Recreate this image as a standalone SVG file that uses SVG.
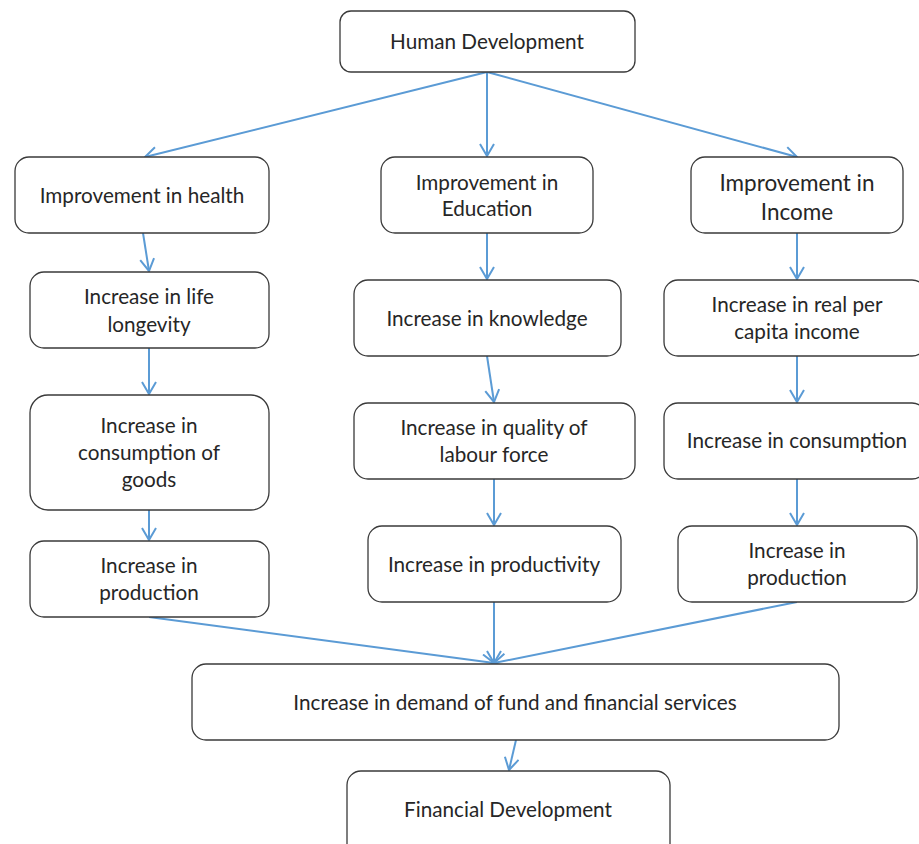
<svg xmlns="http://www.w3.org/2000/svg" width="919" height="844" viewBox="0 0 919 844">
  <style>
    .box { fill: #ffffff; stroke: #3a3a3a; stroke-width: 1.3; }
    .lbl { font-family: Lato, "Open Sans", "Liberation Sans", sans-serif; font-size: 20.7px; fill: #262626; text-anchor: middle; }
    .big { font-size: 22.5px; }
    .conn line { stroke: #5b9bd5; stroke-width: 2; marker-end: url(#arrow); }
  </style>
  <defs>
    <marker id="arrow" viewBox="0 0 14 16" refX="13" refY="8" markerWidth="14" markerHeight="16" markerUnits="userSpaceOnUse" orient="auto">
      <path d="M1,1 L13,8 L1,15" fill="none" stroke="#5b9bd5" stroke-width="2"/>
    </marker>
  </defs>
  <rect width="919" height="844" fill="#ffffff"/>

  <g class="conn">
    <line x1="487" y1="72" x2="145" y2="157"/>
    <line x1="487" y1="72" x2="487" y2="156"/>
    <line x1="487" y1="72" x2="797" y2="157"/>
    <line x1="143" y1="233" x2="149" y2="271"/>
    <line x1="149" y1="348" x2="149" y2="394"/>
    <line x1="149" y1="510" x2="149" y2="540"/>
    <line x1="487" y1="233" x2="487" y2="279"/>
    <line x1="487" y1="356" x2="494" y2="402"/>
    <line x1="494" y1="479" x2="494" y2="525"/>
    <line x1="797" y1="233" x2="797" y2="279"/>
    <line x1="797" y1="356" x2="797" y2="402"/>
    <line x1="797" y1="479" x2="797" y2="525"/>
    <line x1="149" y1="617" x2="494" y2="663"/>
    <line x1="494" y1="602" x2="494" y2="663"/>
    <line x1="797" y1="602" x2="494" y2="663"/>
    <line x1="516" y1="740" x2="509" y2="770"/>
  </g>

  <g id="human-development">
    <rect class="box" x="340" y="11" width="295" height="61" rx="11"/>
    <text class="lbl" x="487" y="49">Human Development</text>
  </g>
  <g id="improve-health">
    <rect class="box" x="15" y="157" width="254" height="76" rx="14"/>
    <text class="lbl" x="142" y="203">Improvement in health</text>
  </g>
  <g id="improve-education">
    <rect class="box" x="381" y="157" width="212" height="76" rx="14"/>
    <text class="lbl" x="487" y="190">Improvement in</text>
    <text class="lbl" x="487" y="216">Education</text>
  </g>
  <g id="improve-income">
    <rect class="box" x="691" y="157" width="212" height="76" rx="14"/>
    <text class="lbl big" x="797" y="191">Improvement in</text>
    <text class="lbl big" x="797" y="220">Income</text>
  </g>
  <g id="life-longevity">
    <rect class="box" x="30" y="272" width="239" height="76" rx="14"/>
    <text class="lbl" x="149" y="304">Increase in life</text>
    <text class="lbl" x="149" y="332">longevity</text>
  </g>
  <g id="knowledge">
    <rect class="box" x="354" y="280" width="267" height="76" rx="14"/>
    <text class="lbl" x="487" y="326">Increase in knowledge</text>
  </g>
  <g id="real-income">
    <rect class="box" x="664" y="280" width="262" height="76" rx="14"/>
    <text class="lbl" x="797" y="312">Increase in real per</text>
    <text class="lbl" x="797" y="339">capita income</text>
  </g>
  <g id="consumption-goods">
    <rect class="box" x="30" y="395" width="239" height="115" rx="18"/>
    <text class="lbl" x="149" y="433">Increase in</text>
    <text class="lbl" x="149" y="460">consumption of</text>
    <text class="lbl" x="149" y="487">goods</text>
  </g>
  <g id="labour-quality">
    <rect class="box" x="354" y="403" width="281" height="76" rx="14"/>
    <text class="lbl" x="494" y="435">Increase in quality of</text>
    <text class="lbl" x="494" y="462">labour force</text>
  </g>
  <g id="consumption">
    <rect class="box" x="664" y="403" width="262" height="76" rx="14"/>
    <text class="lbl" x="797" y="448">Increase in consumption</text>
  </g>
  <g id="production-left">
    <rect class="box" x="30" y="541" width="239" height="76" rx="14"/>
    <text class="lbl" x="149" y="573">Increase in</text>
    <text class="lbl" x="149" y="600">production</text>
  </g>
  <g id="productivity">
    <rect class="box" x="368" y="526" width="253" height="76" rx="14"/>
    <text class="lbl" x="494" y="572">Increase in productivity</text>
  </g>
  <g id="production-right">
    <rect class="box" x="678" y="526" width="239" height="76" rx="14"/>
    <text class="lbl" x="797" y="558">Increase in</text>
    <text class="lbl" x="797" y="585">production</text>
  </g>
  <g id="fund-demand">
    <rect class="box" x="192" y="664" width="647" height="76" rx="14"/>
    <text class="lbl" x="515" y="710">Increase in demand of fund and financial services</text>
  </g>
  <g id="financial-development">
    <rect class="box" x="347" y="771" width="323" height="90" rx="14"/>
    <text class="lbl" x="508" y="817">Financial Development</text>
  </g>
</svg>
